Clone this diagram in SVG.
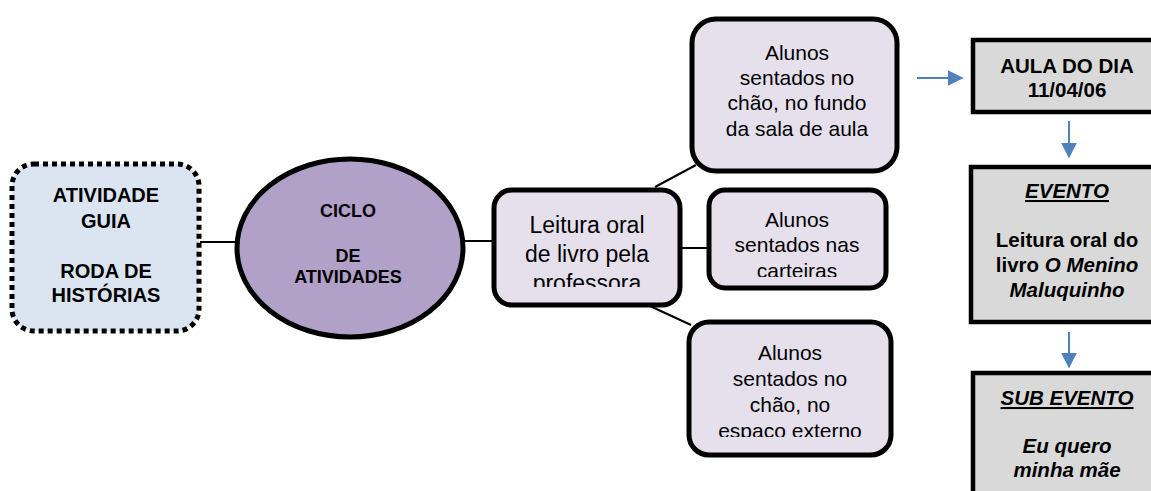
<svg xmlns="http://www.w3.org/2000/svg" width="1151" height="491" viewBox="0 0 1151 491">
<style>
text{font-family:"Liberation Sans",Arial,sans-serif;fill:#000;text-anchor:middle}
.b{font-weight:bold}
.r{font-size:21px}
.lilac{fill:#e5e0ec;stroke:#000;stroke-width:5}
.grey{fill:#d9d9d9;stroke:#000;stroke-width:4.5}
.ln{stroke:#000;stroke-width:2;fill:none}
.ar{stroke:#4f81bd;stroke-width:2;fill:none}
</style>
<defs>
<marker id="ah" viewBox="0 0 10 10" refX="9" refY="5" markerWidth="8" markerHeight="8" markerUnits="strokeWidth" orient="auto">
<path d="M0,0 L10,5 L0,10 z" fill="#4f81bd"/>
</marker>
<clipPath id="c1"><rect x="492" y="188" width="190" height="99"/></clipPath>
<clipPath id="c2"><rect x="707" y="188" width="181" height="89"/></clipPath>
<clipPath id="c3"><rect x="687" y="320" width="206" height="117"/></clipPath>
</defs>
<g id="connectors">
<line class="ln" x1="200" y1="242" x2="238" y2="242"/>
<line class="ln" x1="463" y1="241" x2="493" y2="241"/>
<line class="ln" x1="655" y1="187" x2="696" y2="165"/>
<line class="ln" x1="681" y1="248" x2="708" y2="248"/>
<line class="ln" x1="650" y1="306" x2="691" y2="325"/>
<line class="ar" x1="917" y1="78" x2="962" y2="78" marker-end="url(#ah)"/>
<line class="ar" x1="1069" y1="121" x2="1069" y2="157" marker-end="url(#ah)"/>
<line class="ar" x1="1069" y1="332" x2="1069" y2="367" marker-end="url(#ah)"/>
</g>
<g id="atividade-guia">
<rect x="12" y="164" width="187" height="167" rx="22" fill="#dbe5f1" stroke="#000" stroke-width="5" stroke-dasharray="5 4"/>
<text class="b" font-size="20" x="106" y="202">ATIVIDADE</text>
<text class="b" font-size="20" x="106" y="228">GUIA</text>
<text class="b" font-size="20" x="106" y="278">RODA DE</text>
<text class="b" font-size="20" x="106" y="302">HISTÓRIAS</text>
</g>
<g id="ciclo">
<ellipse cx="350" cy="248" rx="113" ry="89" fill="#b1a0c7" stroke="#000" stroke-width="5"/>
<text class="b" font-size="18" x="348" y="217">CICLO</text>
<text class="b" font-size="18" x="348" y="262">DE</text>
<text class="b" font-size="18" x="348" y="283">ATIVIDADES</text>
</g>
<g id="leitura">
<rect class="lilac" x="494" y="190" width="186" height="115" rx="18"/>
<g clip-path="url(#c1)">
<text font-size="23" x="587" y="233">Leitura oral</text>
<text font-size="23" x="587" y="262">de livro pela</text>
<text font-size="23" x="587" y="291">professora</text>
</g>
</g>
<g id="fundo">
<rect class="lilac" x="692" y="19" width="205" height="152" rx="24"/>
<text class="r" x="797" y="60">Alunos</text>
<text class="r" x="797" y="85">sentados no</text>
<text class="r" x="797" y="110">chão, no fundo</text>
<text class="r" x="797" y="136">da sala de aula</text>
</g>
<g id="carteiras">
<rect class="lilac" x="709" y="190" width="177" height="98" rx="16"/>
<g clip-path="url(#c2)">
<text class="r" x="797" y="227">Alunos</text>
<text class="r" x="797" y="252">sentados nas</text>
<text class="r" x="797" y="278">carteiras</text>
</g>
</g>
<g id="externo">
<rect class="lilac" x="689" y="322" width="202" height="133" rx="20"/>
<g clip-path="url(#c3)">
<text class="r" x="790" y="360">Alunos</text>
<text class="r" x="790" y="386">sentados no</text>
<text class="r" x="790" y="412">chão, no</text>
<text class="r" x="790" y="438">espaço externo</text>
</g>
</g>
<g id="aula">
<rect class="grey" x="973" y="40" width="190" height="72"/>
<text class="b" font-size="20.5" x="1067" y="73">AULA DO DIA</text>
<text class="b" font-size="20.5" x="1067" y="97">11/04/06</text>
</g>
<g id="evento">
<rect class="grey" x="971" y="167" width="192" height="155"/>
<text class="b" font-size="20.5" x="1067" y="198" font-style="italic" text-decoration="underline">EVENTO</text>
<text class="b" font-size="20.5" x="1067" y="247">Leitura oral do</text>
<text class="b" font-size="20.5" x="1067" y="272">livro <tspan font-style="italic">O Menino</tspan></text>
<text class="b" font-size="20.5" x="1067" y="297" font-style="italic">Maluquinho</text>
</g>
<g id="subevento">
<rect class="grey" x="973" y="373" width="190" height="130"/>
<text class="b" font-size="20.5" x="1067" y="405" font-style="italic" text-decoration="underline">SUB EVENTO</text>
<text class="b" font-size="20.5" x="1067" y="453" font-style="italic">Eu quero</text>
<text class="b" font-size="20.5" x="1067" y="477" font-style="italic">minha mãe</text>
</g>
</svg>
